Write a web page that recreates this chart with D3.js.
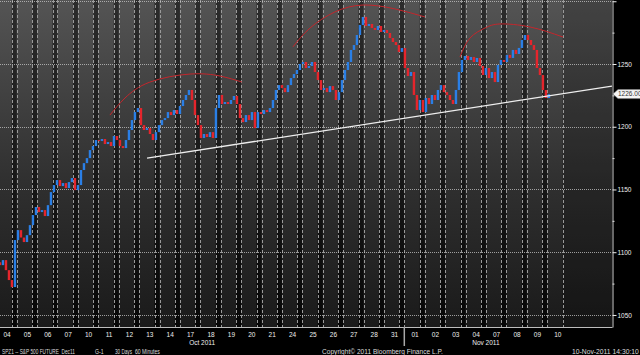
<!DOCTYPE html>
<html>
<head>
<meta charset="utf-8">
<script src="https://cdn.jsdelivr.net/npm/d3@7"></script>
<style>
  body { margin: 0; background: #000; }
  svg { display: block; font-family: "Liberation Sans", Arial, sans-serif; }
</style>
</head>
<body>
<div id="chart"></div>
<script>
const width = 640
const height = 355
const plotRight = 612
const plotBottom = 327

// trading days shown on the axis
const dayLabels = ['04','05','06','07','10','11','12','13','14','17','18','19','20','21','24','25','26','27','28','31',
                   '01','02','03','04','07','08','09','10']
const monthLabels = ['Oct 2011', 'Nov 2011']
const monthStarts = [0, 20]

const priceTicks = [1050, 1100, 1150, 1200, 1250, 1300]
const minorTicks = [1075, 1125, 1175, 1225, 1275]

// SPZ1 bars (closes, oldest first)
const firstOpen = 1092
const closes = [
  1089.7, 1093.7, 1085.7, 1077.8, 1072.2, 1109.7, 1117.6, 1111.7, 1108.1, 1113.6,
  1121.6, 1129.6, 1136.0, 1132.0, 1133.6, 1128.8, 1137.5, 1147.9, 1153.5, 1157.5,
  1152.7, 1155.1, 1151.1, 1155.9, 1159.1, 1149.5, 1153.5, 1165.5, 1171.0, 1175.0,
  1181.4, 1184.6, 1189.4, 1188.6, 1190.2, 1186.2, 1187.8, 1184.6, 1192.6, 1189.4,
  1184.6, 1183.0, 1189.4, 1197.4, 1205.3, 1211.7, 1214.9, 1201.3, 1197.4, 1198.9,
  1194.2, 1189.4, 1195.7, 1201.3, 1205.3, 1206.9, 1211.7, 1209.3, 1213.3, 1210.1,
  1216.5, 1221.3, 1225.3, 1229.3, 1221.3, 1209.3, 1201.3, 1191.0, 1194.2, 1191.8,
  1195.7, 1191.0, 1214.9, 1225.3, 1218.1, 1219.7, 1218.1, 1221.3, 1224.5, 1218.1,
  1206.9, 1203.7, 1209.3, 1205.3, 1211.7, 1198.9, 1211.7, 1210.1, 1213.3, 1211.7,
  1214.9, 1221.3, 1229.3, 1233.2, 1230.8, 1227.6, 1233.2, 1238.8, 1242.0, 1245.2,
  1250.0, 1251.6, 1246.8, 1248.4, 1251.6, 1243.6, 1237.2, 1229.3, 1230.8, 1227.6,
  1232.4, 1229.3, 1221.3, 1227.6, 1237.2, 1245.2, 1251.6, 1261.2, 1265.1, 1273.1,
  1281.1, 1287.5, 1280.3, 1281.9, 1278.7, 1277.1, 1280.3, 1275.5, 1277.1, 1274.7,
  1270.7, 1267.5, 1265.1, 1259.6, 1262.7, 1246.8, 1240.4, 1243.6, 1225.3, 1213.3,
  1221.3, 1211.7, 1222.9, 1218.1, 1225.3, 1221.3, 1229.3, 1233.2, 1227.6, 1225.3,
  1221.3, 1218.1, 1229.3, 1243.6, 1253.2, 1256.4, 1253.2, 1255.6, 1251.6, 1254.8,
  1248.4, 1241.2, 1246.8, 1238.8, 1243.6, 1235.6, 1249.2, 1253.2, 1251.6, 1257.2,
  1254.8, 1261.2, 1258.0, 1262.8, 1269.1, 1273.1, 1269.1, 1265.1, 1261.2, 1246.8,
  1241.2, 1229.3, 1222.9, 1226.0
]
const lastPrice = 1226.00

// drawn annotations: [day position, price]
const trendLine = [[7.39, 1175.0], [30.18, 1232.4]]
const leftShoulder = [[5.57, 1209.3], [6.31, 1222.9], [7.53, 1235.6], [9.50, 1242.0], [10.97, 1240.4], [12.04, 1235.6]]
const head = [[14.54, 1263.6], [15.38, 1278.7], [16.60, 1291.5], [17.98, 1297.0], [19.54, 1293.9], [21.01, 1287.5]]
const rightShoulder = [[22.73, 1255.6], [23.22, 1270.7], [23.96, 1278.7], [24.69, 1281.9], [26.16, 1279.5], [27.78, 1271.5]]

const footerTexts = ['SPZ1 -- S&P 500 FUTURE  Dec11', 'G-1', '30 Days', '60 Minutes',
                     'Copyright\u00a9 2011 Bloomberg Finance L.P.', '10-Nov-2011 14:30:10']
const footerX = [2, 95, 115, 135, 322, 572]
const footerW = [73, 8.5, 17, 25, 121, 67]

const x = d3.scaleLinear().domain([0, 28]).range([-3.7, 567.5])
const y = d3.scaleLinear().domain([1040.4, 1301]).range([plotBottom, 0])
const barX = d3.scaleLinear().domain([0, closes.length - 1]).range([x(0.18), x(27.09)])

const svg = d3.select('#chart')
    .append('svg')
    .attr('width', width)
    .attr('height', height)

svg.append('rect').attr('width', width).attr('height', height).attr('fill', '#000')

const defs = svg.append('defs')
const bgGrad = defs.append('linearGradient').attr('id', 'bg').attr('x1', 0).attr('y1', 0).attr('x2', 0).attr('y2', 1)
bgGrad.append('stop').attr('offset', 0).attr('stop-color', '#545454')
bgGrad.append('stop').attr('offset', 0.55).attr('stop-color', '#303030')
bgGrad.append('stop').attr('offset', 1).attr('stop-color', '#1a1a1a')
const bandGrad = defs.append('linearGradient').attr('id', 'band').attr('x1', 0).attr('y1', 0).attr('x2', 0).attr('y2', 1)
bandGrad.append('stop').attr('offset', 0).attr('stop-color', '#2c2c2c')
bandGrad.append('stop').attr('offset', 1).attr('stop-color', '#060606')
defs.append('clipPath').attr('id', 'plot-clip')
    .append('rect').attr('width', plotRight).attr('height', plotBottom)

// plot background
svg.append('rect')
    .attr('width', plotRight).attr('height', plotBottom)
    .attr('fill', 'url(#bg)')

// dark session breaks at the end of each day
const breaks = d3.range(dayLabels.length - 1)
svg.append('g').selectAll('rect')
    .data(breaks)
    .enter()
    .append('rect')
    .attr('x', i => x(i + 0.755))
    .attr('width', i => x(i + 1) - x(i + 0.755))
    .attr('height', plotBottom)
    .attr('fill', 'url(#band)')

// empty area after the last day
svg.append('rect')
    .attr('x', x(27.755)).attr('width', plotRight - x(27.755))
    .attr('height', plotBottom)
    .attr('fill', '#000').attr('opacity', 0.2)

const dashX = breaks.flatMap(i => [x(i + 0.755), x(i + 1)]).concat([x(27.755)])
svg.append('g').selectAll('line')
    .data(dashX)
    .enter()
    .append('line')
    .attr('x1', d => Math.round(d) + 0.5).attr('x2', d => Math.round(d) + 0.5)
    .attr('y1', 0).attr('y2', plotBottom)
    .attr('stroke', '#9a9a9a')
    .attr('stroke-width', 1)
    .attr('stroke-dasharray', '3,2')

// horizontal dotted grid
svg.append('g').selectAll('line')
    .data(priceTicks)
    .enter()
    .append('line')
    .attr('x1', 0).attr('x2', plotRight)
    .attr('y1', d => Math.round(y(d)) + 0.5).attr('y2', d => Math.round(y(d)) + 0.5)
    .attr('stroke', '#c8c8c8')
    .attr('stroke-opacity', 0.75)
    .attr('stroke-dasharray', '1,1')

const plot = svg.append('g').attr('clip-path', 'url(#plot-clip)')

// bars
const bars = closes.map((c, k) => ({ k, o: k ? closes[k - 1] : firstOpen, c }))
plot.append('g').selectAll('rect')
    .data(bars)
    .enter()
    .append('rect')
    .attr('x', d => barX(d.k) - 1.2)
    .attr('width', 2.4)
    .attr('y', d => y(Math.max(d.o, d.c)))
    .attr('height', d => Math.max(1, Math.abs(y(d.o) - y(d.c))))
    .attr('fill', d => d.c >= d.o ? '#2a7fe6' : '#e5252c')

// annotations
const line = d3.line().x(d => x(d[0])).y(d => y(d[1]))
const arc = d3.line().x(d => x(d[0])).y(d => y(d[1])).curve(d3.curveNatural)
plot.selectAll('.arc')
    .data([leftShoulder, head, rightShoulder])
    .enter()
    .append('path')
    .attr('d', arc)
    .attr('fill', 'none')
    .attr('stroke', '#c4262c')
    .attr('stroke-width', 1)
plot.append('path')
    .attr('d', line(trendLine))
    .attr('fill', 'none')
    .attr('stroke', '#eeeeee')
    .attr('stroke-width', 1.3)

// y axis on the right
const yAxis = d3.axisRight(y)
    .tickValues(priceTicks)
    .tickSize(4)
    .tickSizeOuter(0)
    .tickPadding(1)
    .tickFormat(d => d === 1300 ? '' : d)
const yAxisG = svg.append('g')
    .attr('transform', `translate(${plotRight + 0.5}, 0)`)
    .call(yAxis)
yAxisG.select('.domain').attr('stroke', '#cfcfcf')
yAxisG.selectAll('.tick line').attr('stroke', '#eeeeee')
yAxisG.selectAll('text').attr('fill', '#eeeeee').style('font-size', '6.5px')

const yMinor = svg.append('g')
    .attr('transform', `translate(${plotRight + 0.5}, 0)`)
    .call(d3.axisRight(y).tickValues(minorTicks).tickSize(2).tickFormat(''))
yMinor.select('.domain').remove()
yMinor.selectAll('.tick line').attr('stroke', '#dddddd')

// last price flag
const flag = svg.append('g').attr('transform', `translate(${plotRight + 1}, ${y(lastPrice)})`)
flag.append('path')
    .attr('d', 'M0,0 L5,-4.5 H27.5 V4.5 H5 Z')
    .attr('fill', '#f4f4f4')
    .attr('stroke', '#8a8a8a')
    .attr('stroke-width', 0.5)
flag.append('text')
    .attr('x', 5)
    .attr('dy', '0.35em')
    .attr('fill', '#333')
    .style('font-size', '6.5px')
    .text(lastPrice.toFixed(2))

// x axis
const xAxis = d3.axisBottom(x)
    .tickValues(d3.range(dayLabels.length).map(i => i + 0.5))
    .tickSize(0)
    .tickPadding(5)
    .tickFormat((d, i) => dayLabels[i])
const xAxisG = svg.append('g')
    .attr('transform', `translate(0, ${plotBottom})`)
    .call(xAxis)
xAxisG.select('.domain').remove()
xAxisG.selectAll('text').attr('fill', '#eeeeee').style('font-size', '6.5px')

svg.append('line')
    .attr('x1', 0).attr('x2', plotRight + 0.5)
    .attr('y1', plotBottom + 0.5).attr('y2', plotBottom + 0.5)
    .attr('stroke', '#bdbdbd')

svg.append('line')
    .attr('x1', x(monthStarts[1])).attr('x2', x(monthStarts[1]))
    .attr('y1', plotBottom).attr('y2', plotBottom + 19)
    .attr('stroke', '#a8a8a8')
    .attr('stroke-width', 1.5)

svg.append('g').selectAll('text')
    .data(monthLabels)
    .enter()
    .append('text')
    .attr('x', (d, i) => (x(Math.max(monthStarts[i], 0.18)) + x(i + 1 < monthStarts.length ? monthStarts[i + 1] : 28)) / 2)
    .attr('y', plotBottom + 18)
    .attr('text-anchor', 'middle')
    .attr('fill', '#eeeeee')
    .style('font-size', '6.5px')
    .text(d => d)

// footer, squeezed horizontally like the terminal font
const footY = 353.5
svg.append('g').selectAll('text')
    .data(footerTexts)
    .enter()
    .append('text')
    .attr('fill', '#dddddd')
    .style('font-size', '6.5px')
    .style('white-space', 'pre')
    .text(d => d)
    .attr('transform', function (d, i) {
        const k = footerW[i] / this.getComputedTextLength()
        return `translate(${footerX[i]}, ${footY}) scale(${k}, 1)`
    })
</script>
</body>
</html>
